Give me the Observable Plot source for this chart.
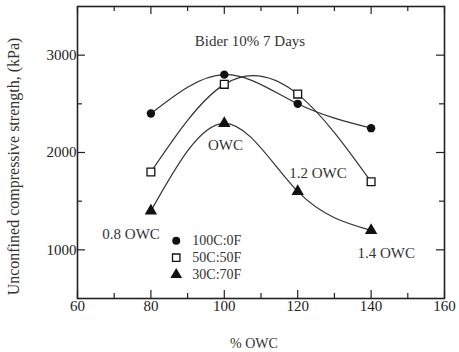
<!DOCTYPE html>
<html>
<head>
<meta charset="utf-8">
<script src="https://cdn.jsdelivr.net/npm/d3@7"></script>
<script src="https://cdn.jsdelivr.net/npm/@observablehq/plot@0.6"></script>
<style>
  html, body { margin: 0; padding: 0; background: #fff; }
  #chart svg { display: block; }
</style>
</head>
<body>
<div id="chart"></div>
<script>
// ---- data ----
const owc = [80, 100, 120, 140];
const s100C0F = [2400, 2800, 2500, 2250];
const s50C50F = [1800, 2700, 2600, 1700];
const s30C70F = [1400, 2300, 1600, 1200];
const seriesNames = ["100C:0F", "50C:50F", "30C:70F"];
const seriesValues = [s100C0F, s50C50F, s30C70F];
const seriesSymbols = ["circle", "square", "triangle"];

const xTicks = [60, 80, 100, 120, 140, 160];
const xMinor = [70, 90, 110, 130, 150];
const yTicks = [1000, 2000, 3000];
const yMinor = [1500, 2500];

const annotationText = ["Bider 10% 7 Days", "OWC", "1.2 OWC", "0.8 OWC", "1.4 OWC"];
const annotationX = [107, 100.3, 125.5, 74.6, 144.1];
const annotationY = [3140, 2070, 1790, 1165, 970];

const xLabel = "% OWC";
const yLabel = "Unconfined compressive strength, (kPa)";

// ---- layout ----
const W = 459, H = 352;
const mL = 77, mR = 15, mT = 6, mB = 54;
const plotH = H - mT - mB;
const plotW = W - mL - mR;
const ink = "#222";
const MAJ = 8, MIN = 5;

const rows = seriesNames.flatMap((name, s) =>
  owc.map((x, i) => ({series: name, x, y: seriesValues[s][i]})));

const annotations = annotationText.map((t, i) => ({t, x: annotationX[i], y: annotationY[i]}));

function symbolStyle(s) {
  if (s === 1) return {symbol: "square", r: 4.4, fill: "white", stroke: "#111", strokeWidth: 1.3};
  if (s === 2) return {symbol: "triangle", r: 4.6, fill: "#111", stroke: "none"};
  return {symbol: "circle", r: 4.2, fill: "#111", stroke: "none"};
}

const legendX = 86.9, legendTextX = 91.3, legendY = 1094, legendStep = 17;

const marks = [
  // inward ticks on all four sides
  Plot.tickX(xTicks, {x: d => d, insetTop: plotH - MAJ, stroke: ink, strokeWidth: 1.2}),
  Plot.tickX(xTicks, {x: d => d, insetBottom: plotH - MAJ, stroke: ink, strokeWidth: 1.2}),
  Plot.tickX(xMinor, {x: d => d, insetTop: plotH - MIN, stroke: ink, strokeWidth: 1.2}),
  Plot.tickX(xMinor, {x: d => d, insetBottom: plotH - MIN, stroke: ink, strokeWidth: 1.2}),
  Plot.tickY(yTicks, {y: d => d, insetRight: plotW - MAJ, stroke: ink, strokeWidth: 1.2}),
  Plot.tickY(yTicks, {y: d => d, insetLeft: plotW - MAJ, stroke: ink, strokeWidth: 1.2}),
  Plot.tickY(yMinor, {y: d => d, insetRight: plotW - MIN, stroke: ink, strokeWidth: 1.2}),
  Plot.tickY(yMinor, {y: d => d, insetLeft: plotW - MIN, stroke: ink, strokeWidth: 1.2}),
  Plot.frame({stroke: ink, strokeWidth: 1.6}),
  Plot.axisX({ticks: xTicks, tickSize: 0, tickPadding: 2, label: null, fontSize: 15, fill: ink}),
  Plot.axisY({ticks: yTicks, tickSize: 0, tickPadding: 1, label: null, fontSize: 15, fill: ink, tickFormat: d => String(d)}),
  // curves
  ...seriesNames.map(name =>
    Plot.line(rows.filter(r => r.series === name), {x: "x", y: "y", curve: "natural", stroke: "#333", strokeWidth: 1.2})),
  // markers
  ...seriesNames.map((name, s) =>
    Plot.dot(rows.filter(r => r.series === name), {x: "x", y: "y", ...symbolStyle(s)})),
  // annotations
  Plot.text(annotations, {x: "x", y: "y", text: "t", fontSize: 15, fill: "#333"}),
  // legend
  ...seriesNames.map((name, s) =>
    Plot.dot([name], {x: () => legendX, y: () => legendY, dy: s * legendStep, ...symbolStyle(s), r: symbolStyle(s).r * 0.95})),
  ...seriesNames.map((name, s) =>
    Plot.text([name], {x: () => legendTextX, y: () => legendY, dy: s * legendStep, text: d => d, textAnchor: "start", fontSize: 14, fill: "#333"})),
  // axis titles
  Plot.text([xLabel], {frameAnchor: "bottom", text: d => d, textAnchor: "middle", lineAnchor: "middle", dx: -7, dy: 45, fontSize: 14, fill: "#333"}),
  Plot.text([yLabel], {frameAnchor: "left", text: d => d, textAnchor: "middle", lineAnchor: "middle", rotate: -90, dx: -64, dy: 14, fontSize: 16, fill: "#333"})
];

const chart = Plot.plot({
  width: W,
  height: H,
  marginLeft: mL,
  marginRight: mR,
  marginTop: mT,
  marginBottom: mB,
  x: {domain: [60, 160]},
  y: {domain: [500, 3500]},
  style: {fontFamily: "'Liberation Serif', 'DejaVu Serif', serif", background: "white", color: ink},
  marks
});
document.getElementById("chart").appendChild(chart);
</script>
</body>
</html>
